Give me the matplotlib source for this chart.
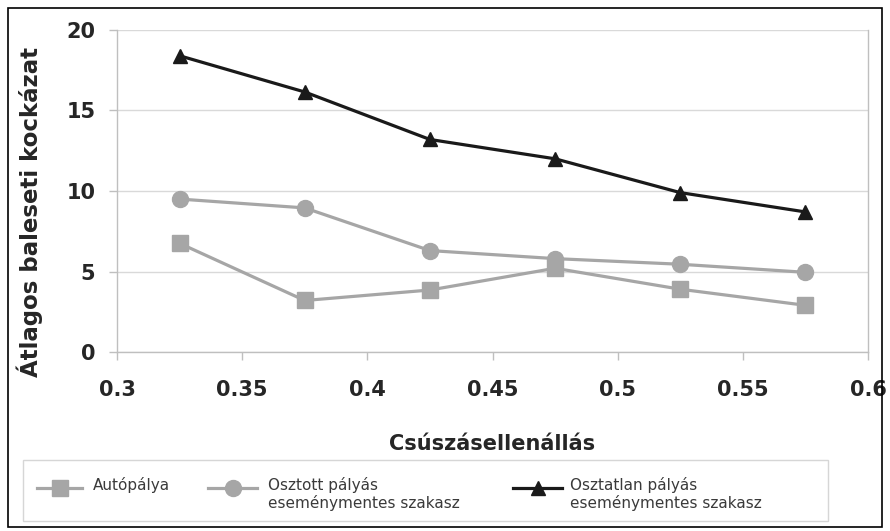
import matplotlib
matplotlib.use("Agg")
import matplotlib.pyplot as plt
from matplotlib.patches import Rectangle
from matplotlib.lines import Line2D

x = [0.325, 0.375, 0.425, 0.475, 0.525, 0.575]
autopalya = [6.75, 3.2, 3.85, 5.2, 3.9, 2.9]
osztott = [9.5, 8.95, 6.3, 5.8, 5.45, 4.95]
osztatlan = [18.4, 16.15, 13.2, 12.0, 9.9, 8.7]
labels = ["Autópálya", "Osztott pályás\neseménymentes szakasz", "Osztatlan pályás\neseménymentes szakasz"]
xticks = [0.3, 0.35, 0.4, 0.45, 0.5, 0.55, 0.6]
xticklabels = ["0.3", "0.35", "0.4", "0.45", "0.5", "0.55", "0.6"]
yticks = [0, 5, 10, 15, 20]

plt.rcParams['font.family'] = ['DejaVu Sans']

fig = plt.figure(figsize=(8.9, 5.31), dpi=100)
W, H = 890, 531
def fx(px): return px / W
def fy(py): return 1 - py / H

ax = fig.add_axes([fx(117), fy(352), (868 - 117) / W, (352 - 30) / H])

gray = '#a6a6a6'
black = '#1a1a1a'
styles = [
    dict(color=gray, marker='s', ms=11),
    dict(color=gray, marker='o', ms=11.5),
    dict(color=black, marker='^', ms=10.5),
]
series = [autopalya, osztott, osztatlan]
for i, (vals, st) in enumerate(zip(series, styles)):
    ax.plot(x, vals, lw=2.3, zorder=3 + i, label=labels[i], **st)

ax.set_xlim(0.3, 0.6)
ax.set_ylim(0, 20)
ax.set_xticks(xticks)
ax.set_xticklabels(xticklabels)
ax.set_yticks(yticks)
ax.yaxis.grid(True, color='#d9d9d9', lw=1)
ax.set_axisbelow(True)
for s in ['left', 'bottom', 'right']:
    ax.spines[s].set_color('#bfbfbf')
    ax.spines[s].set_linewidth(1)
ax.spines['top'].set_visible(False)
ax.tick_params(axis='both', colors='#bfbfbf', length=5.5, width=1, labelcolor='#262626', labelsize=15)
for lab in ax.get_xticklabels() + ax.get_yticklabels():
    lab.set_fontweight('bold')
ax.tick_params(axis='x', pad=15)
ax.tick_params(axis='y', pad=10)

ax.set_xlabel("Csúszásellenállás", fontsize=15, fontweight='bold', color='#262626', labelpad=24)
ax.set_ylabel("Átlagos baleseti kockázat", fontsize=16.5, fontweight='bold', color='#262626')
ax.yaxis.set_label_coords((43 - 117) / (868 - 117), (352 - 212) / (352 - 30))

# legend box
fig.patches.append(Rectangle((fx(23), fy(521)), (828 - 23) / W, (521 - 460) / H,
                             transform=fig.transFigure, fill=False, edgecolor='#d6d6d6', lw=1))
handle_x = [(37, 82), (208, 257), (513, 562)]
text_x = [93, 268, 570]
hy = 488
for (x0, x1), tx, st, lab in zip(handle_x, text_x, styles, labels):
    ln = Line2D([fx(x0), fx((x0 + x1) / 2), fx(x1)], [fy(hy)] * 3, transform=fig.transFigure,
                lw=2.3, markevery=[1], **st)
    fig.lines.append(ln)
    fig.text(fx(tx), fy(477), lab, fontsize=11, color='#3a3a3a', va='top', ha='left', linespacing=1.15)

fig.patches.append(Rectangle((fx(8), fy(527)), (882 - 8) / W, (527 - 8) / H,
                             transform=fig.transFigure, fill=False, edgecolor='black', lw=1.2))

fig.savefig('out.png', dpi=100, facecolor='white')
